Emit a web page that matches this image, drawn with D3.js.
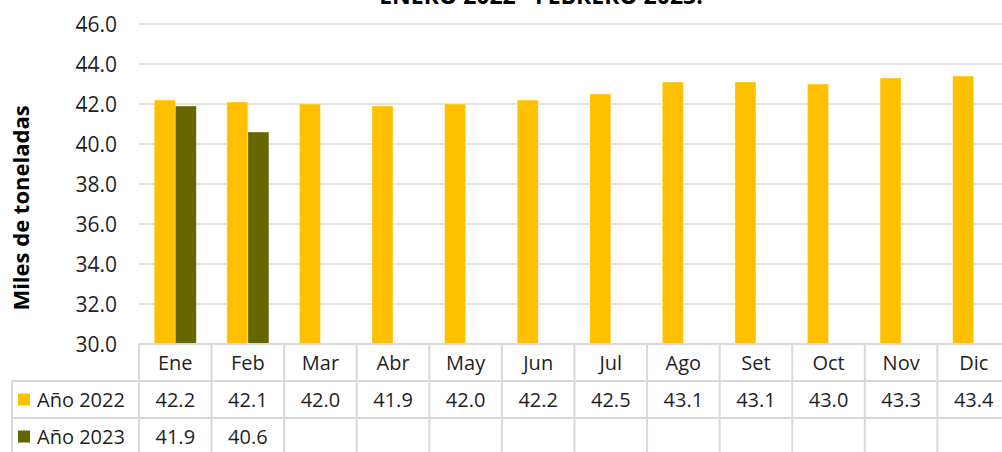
<!DOCTYPE html>
<html>
<head>
<meta charset="utf-8">
<script src="https://cdn.jsdelivr.net/npm/d3@7"></script>
<style>
  html, body { margin: 0; padding: 0; background: #fff; overflow: hidden; }
  svg { display: block; font-family: "Open Sans", sans-serif; }
</style>
</head>
<body>
<svg id="chart" width="1002" height="452"></svg>
<script>
const title = "ENERO 2022 - FEBRERO 2023.";
const yLabel = "Miles de toneladas";
const months = ["Ene","Feb","Mar","Abr","May","Jun","Jul","Ago","Set","Oct","Nov","Dic"];
const seriesNames = ["Año 2022","Año 2023"];
const values2022 = [42.2,42.1,42.0,41.9,42.0,42.2,42.5,43.1,43.1,43.0,43.3,43.4];
const values2023 = [41.9,40.6,null,null,null,null,null,null,null,null,null,null];
const yTicks = [30,32,34,36,38,40,42,44,46];
const colors = ["#FFC000","#666600"];

(function () {
const svg = d3.select("#chart");
const plotLeft = 139, plotRight = 1010, plotTop = 24, plotBottom = 344;
const rowH = 37;
const legendLeft = 12;
const gridColor = "#d9d9d9";
const textColor = "#1f1f1f";

const x = d3.scaleBand().domain(months).range([plotLeft, plotRight]).padding(0);
const bw = x.bandwidth();
const groupW = bw * 0.58;
const xs = d3.scaleBand().domain(seriesNames)
  .range([(bw - groupW) / 2, (bw + groupW) / 2]).padding(0);
const y = d3.scaleLinear().domain([30, 46]).range([plotBottom, plotTop]);

// gridlines
svg.append("g").selectAll("line").data(yTicks.filter(t => t > 30)).join("line")
  .attr("x1", plotLeft).attr("x2", plotRight)
  .attr("y1", d => y(d)).attr("y2", d => y(d))
  .attr("stroke", gridColor).attr("stroke-width", 1.5);

// y tick labels
svg.append("g").selectAll("text").data(yTicks).join("text")
  .attr("x", 117).attr("y", d => y(d)).attr("dy", "0.36em")
  .attr("text-anchor", "end").attr("font-size", 21).attr("fill", textColor)
  .text(d => d.toFixed(1));

// bars
const series = [values2022, values2023];
series.forEach((vals, si) => {
  svg.append("g").selectAll("rect")
    .data(months.map((m, i) => ({ m, v: vals[i] })).filter(d => d.v != null))
    .join("rect")
    .attr("x", d => x(d.m) + xs(seriesNames[si]))
    .attr("width", xs.bandwidth())
    .attr("y", d => y(d.v))
    .attr("height", d => y(30) - y(d.v))
    .attr("fill", colors[si])
    .attr("stroke", "#ffffff").attr("stroke-opacity", 0.45).attr("stroke-width", 0.8);
});

// data table lines
const t = svg.append("g").attr("stroke", gridColor).attr("stroke-width", 2);
t.append("line").attr("x1", plotLeft).attr("x2", plotRight).attr("y1", plotBottom).attr("y2", plotBottom);
[1, 2, 3].forEach(r => {
  t.append("line").attr("x1", legendLeft).attr("x2", plotRight)
    .attr("y1", plotBottom + rowH * r).attr("y2", plotBottom + rowH * r);
});
t.selectAll(".v").data(months).join("line")
  .attr("x1", d => x(d)).attr("x2", d => x(d))
  .attr("y1", plotBottom).attr("y2", plotBottom + rowH * 3);
t.append("line").attr("x1", plotRight).attr("x2", plotRight).attr("y1", plotBottom).attr("y2", plotBottom + rowH * 3);
t.append("line").attr("x1", legendLeft).attr("x2", legendLeft)
  .attr("y1", plotBottom + rowH).attr("y2", plotBottom + rowH * 3);

// month header
svg.append("g").selectAll("text").data(months).join("text")
  .attr("x", d => x(d) + bw / 2).attr("y", plotBottom + rowH / 2).attr("dy", "0.36em")
  .attr("text-anchor", "middle").attr("font-size", 20).attr("fill", textColor)
  .text(d => d);

// table values and legend keys
series.forEach((vals, si) => {
  const cy = plotBottom + rowH * (si + 1) + rowH / 2;
  svg.append("g").selectAll("text")
    .data(months.map((m, i) => ({ m, v: vals[i] })).filter(d => d.v != null))
    .join("text")
    .attr("x", d => x(d.m) + bw / 2).attr("y", cy).attr("dy", "0.36em")
    .attr("text-anchor", "middle").attr("font-size", 20).attr("fill", textColor)
    .text(d => d.v.toFixed(1));
  svg.append("rect").attr("x", 18).attr("y", cy - 6).attr("width", 12).attr("height", 12)
    .attr("fill", colors[si]);
  svg.append("text").attr("x", 37).attr("y", cy).attr("dy", "0.36em")
    .attr("font-size", 20).attr("fill", textColor).text(seriesNames[si]);
});

// y-axis label
svg.append("text")
  .attr("transform", "translate(29,208) rotate(-90)")
  .attr("text-anchor", "middle").attr("font-size", 22).attr("font-weight", "bold")
  .attr("fill", "#000").text(yLabel);

// title (partially cut off at top, as in the reference)
svg.append("text").attr("x", 541).attr("y", 4)
  .attr("text-anchor", "middle").attr("font-size", 23).attr("font-weight", "bold")
  .attr("fill", "#000").text(title);
})();
</script>
</body>
</html>
